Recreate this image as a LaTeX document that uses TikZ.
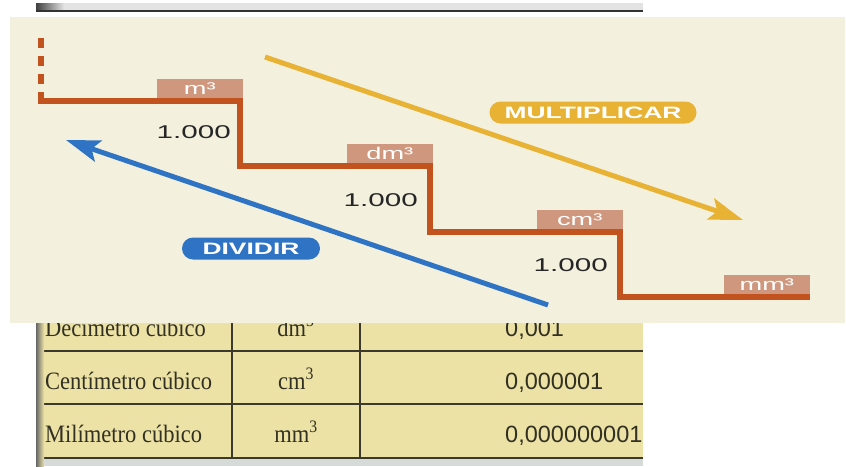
\documentclass[tikz,border=0pt]{standalone}
\usepackage{fontspec}
\usetikzlibrary{arrows.meta}
\newfontfamily\widesans[FakeStretch=1.6]{Liberation Sans}
\newfontfamily\tabserif[FakeStretch=0.9]{Liberation Serif}
\newfontfamily\tabsans{Liberation Sans}
\definecolor{panelc}{RGB}{243,240,222}
\definecolor{stairc}{RGB}{194,82,30}
\definecolor{unitboxc}{RGB}{207,152,126}
\definecolor{goldc}{RGB}{232,178,52}
\definecolor{bluec}{RGB}{47,116,196}
\definecolor{tabfillc}{RGB}{236,226,166}
\definecolor{tablinec}{RGB}{60,58,45}
\definecolor{tabtextc}{RGB}{50,48,35}
\definecolor{basec}{RGB}{214,218,216}
\begin{document}
\begin{tikzpicture}[x=1pt,y=-1pt,
  stairline/.style={draw=stairc,line width=6pt},
  unitlbl/.style={fill=unitboxc,text=white,font=\widesans\fontsize{17}{17}\selectfont,
    minimum width=86pt,minimum height=19pt,inner sep=0pt,anchor=south east},
  factor/.style={font=\widesans\fontsize{18.5}{18.5}\selectfont,text=black!85,anchor=east,inner sep=0pt},
  pill/.style={text=white,font=\widesans\bfseries\fontsize{16.5}{16.5}\selectfont,
    rounded corners=11pt,inner sep=0pt,minimum height=22pt},
  tabtxt/.style={font=\tabserif\fontsize{25}{25}\selectfont,text=tabtextc,inner sep=0pt,anchor=base west},
  tabunit/.style={font=\tabserif\fontsize{25}{25}\selectfont,text=tabtextc,inner sep=0pt,anchor=base},
  tabnum/.style={font=\tabsans\fontsize{23.5}{23.5}\selectfont,text=tabtextc,inner sep=0pt,anchor=base west},
  tabrule/.style={draw=tablinec,line width=1.8pt},
  arrowline/.style={line width=5pt}
]
\useasboundingbox (0,0) rectangle (846,466);
\fill[white] (0,0) rectangle (846,466);

% top strip of the table behind
\fill[gray!22] (36,3) rectangle (643,11);
\shade[left color=black!75,right color=gray!22] (36,3) rectangle (64,11);
\draw[black!80,line width=1.5pt] (36,11) -- (643,11);

% table below
\fill[tabfillc] (36,300) rectangle (643,458);
\fill[basec] (36,458) rectangle (643,466);
\begin{scope}
  \clip (36,300) rectangle (643,466);
  \node[tabtxt] (r1a) at (45,336) {Decímetro cúbico};
  \node[tabunit] (r1b) at (296,336) {dm\textsuperscript{3}};
  \node[tabnum] (r1c) at (505,336) {0,001};
  \node[tabtxt] (r2a) at (45,389) {Centímetro cúbico};
  \node[tabunit] (r2b) at (296,389) {cm\textsuperscript{3}};
  \node[tabnum] (r2c) at (505,389) {0,000001};
  \node[tabtxt] (r3a) at (45,442) {Milímetro cúbico};
  \node[tabunit] (r3b) at (296,442) {mm\textsuperscript{3}};
  \node[tabnum] (r3c) at (505,442) {0,000000001};
\end{scope}
\draw[tabrule] (36,351) -- (643,351);
\draw[tabrule] (36,404) -- (643,404);
\draw[tabrule] (36,458) -- (643,458);
\draw[tabrule] (232,300) -- (232,458);
\draw[tabrule] (360,300) -- (360,458);
\shade[left color=black!60,right color=tabfillc] (36,300) rectangle (44,466);

% overlay panel
\fill[panelc] (10,17) rectangle (845,323);

% staircase
\coordinate (s0) at (41,38);
\coordinate (d1) at (41,92);
\coordinate (c0) at (41,101);
\coordinate (c1) at (240,101);
\coordinate (c2) at (240,166);
\coordinate (c3) at (430,166);
\coordinate (c4) at (430,232);
\coordinate (c5) at (620,232);
\coordinate (c6) at (620,297);
\coordinate (e)  at (810,297);
\draw[stairline,dash pattern=on 10pt off 8pt] (s0) -- (d1);
\draw[stairline,line join=miter] (d1) -- (c0) -- (c1) -- (c2) -- (c3) -- (c4) -- (c5) -- (c6) -- (e);

% unit labels
\node[unitlbl] (m3)  at (243,98)  {m³};
\node[unitlbl] (dm3) at (433,163) {dm³};
\node[unitlbl] (cm3) at (623,229) {cm³};
\node[unitlbl] (mm3) at (810,294) {mm³};

% factors
\node[factor] (f1) at (231,132) {1.000};
\node[factor] (f2) at (418,200) {1.000};
\node[factor] (f3) at (608,265) {1.000};

% arrows
\coordinate (ya) at (265,57);
\coordinate (yb) at (743,220);
\draw[arrowline,goldc,-{Stealth[length=34pt,width=22pt,inset=7pt]}] (ya) -- (yb);
\coordinate (ba) at (548,305);
\coordinate (bb) at (66,140);
\draw[arrowline,bluec,-{Stealth[length=34pt,width=22pt,inset=7pt]}] (ba) -- (bb);

% pills
\node[pill,fill=goldc,minimum width=207pt] (mult) at (593,112.5) {MULTIPLICAR};
\node[pill,fill=bluec,minimum width=138pt] (div) at (251,248.5) {DIVIDIR};
\end{tikzpicture}
\end{document}
